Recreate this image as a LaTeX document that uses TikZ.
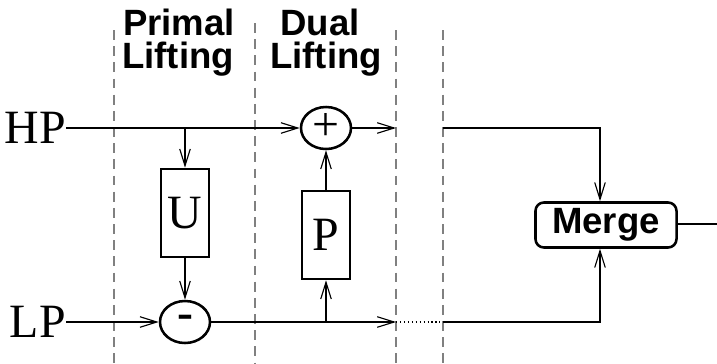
\documentclass[tikz,border=0pt]{standalone}
\usepackage{fontspec}
\setmainfont{Liberation Serif}
\setsansfont{Liberation Sans}
\usetikzlibrary{arrows.meta,positioning,shapes.geometric}

\tikzset{
    sep/.style={draw=gray, dash pattern=on 7pt off 4.5pt, line width=1.6pt},
    wire/.style={line width=0.8pt},
    >={Straight Barb[length=12pt,width=7.5pt,line width=0.8pt]},
    blk/.style={draw, line width=1.8pt, minimum width=1.2cm, minimum height=2.2cm,
        inner sep=0pt, font=\fontsize{34}{36}\selectfont},
    op/.style={draw, ellipse, line width=1.8pt, minimum width=1.25cm, minimum height=1.05cm,
        inner sep=0pt, font=\fontsize{34}{36}\selectfont},
    sig/.style={inner sep=0pt, font=\fontsize{34}{36}\selectfont},
    head/.style={inner sep=0pt, anchor=base,
        font=\sffamily\bfseries\fontsize{26}{28}\selectfont}
}

\begin{document}
\begin{tikzpicture}[x=0.025cm, y=-0.025cm]
    \useasboundingbox (0,0) rectangle (717,363);
    % stage borders
    \foreach \x/\t in {114/30, 255/23, 396/30, 443/30}
        \draw [sep] (\x,\t) -- (\x,363);
    \node [head] (primal) at (179,35) {Primal};
    \node [head] (primalLift) at (178,68) {Lifting};
    \node [head] (dual) at (320,35) {Dual};
    \node [head] (dualLift) at (326,68) {Lifting};

    % blocks
    \node [sig, anchor=east] (hp) at (66,128) {HP};
    \node [sig, anchor=east] (lp) at (66,322) {LP};
    \node [op] (add) at (326,128) {\raisebox{1pt}{+}};
    \node [op] (sub) at (185,322) {\textbf{-}};
    \node [blk] (U) at (185,213) {U};
    \node [blk] (P) at (326,235) {P};
    \node [draw, line width=1.8pt, rounded corners=6pt, minimum width=3.525cm,
        minimum height=1.125cm, inner sep=0pt,
        font=\sffamily\bfseries\fontsize{26}{28}\selectfont] (merge) at (606,225) {\raisebox{-2pt}{Merge}\hspace{0.3cm}};

    \coordinate (tapU) at (185,128);
    \coordinate (tapP) at (326,322);
    \coordinate (hpEnd) at (396,128);
    \coordinate (lpEnd) at (396,322);
    \coordinate (hpRe) at (443,128);
    \coordinate (lpRe) at (443,322);
    \coordinate (mIn) at (600,0);
    \coordinate (out) at (717,224);

    % connections
    \draw [wire, ->] (hp.east) -- (add.west);
    \draw [wire, ->] (tapU) -- (U.north);
    \draw [wire, ->] (U.south) -- (sub.north);
    \draw [wire, ->] (lp.east) -- (sub.west);
    \draw [wire, ->] (sub.east) -- (lpEnd);
    \draw [wire, ->] (tapP) -- (P.south);
    \draw [wire, ->] (P.north) -- (add.south);
    \draw [wire, ->] (add.east) -- (hpEnd);
    \draw [wire, dotted] (lpEnd) -- (lpRe);
    \draw [wire, ->] (hpRe) -| (mIn |- merge.north);
    \draw [wire, ->] (lpRe) -| (mIn |- merge.south);
    \draw [wire] (merge.east |- out) -- (out);
\end{tikzpicture}
\end{document}
